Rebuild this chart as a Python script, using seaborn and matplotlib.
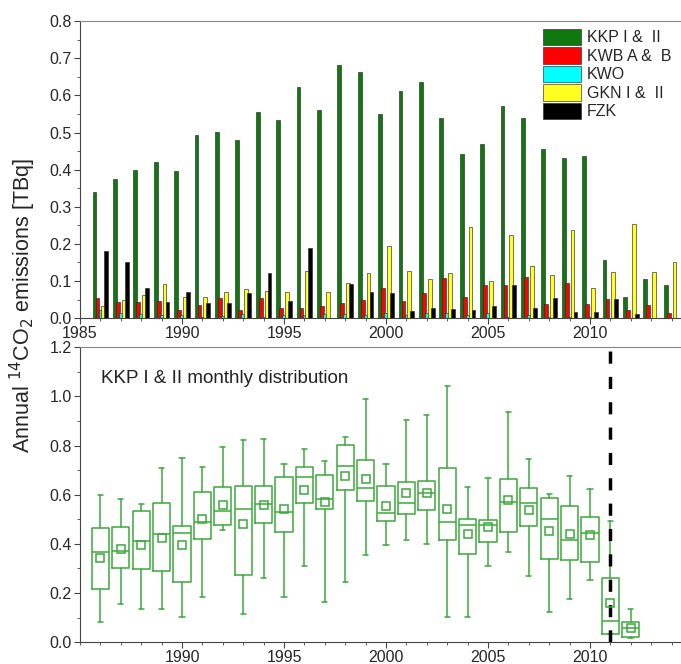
import numpy as np
import pandas as pd
import matplotlib
matplotlib.use("Agg")
import matplotlib.pyplot as plt
import seaborn as sns
from matplotlib.ticker import MultipleLocator, FormatStrFormatter

# annual emissions per plant [TBq]
years = list(range(1986, 2015))
kkp = [0.339, 0.374, 0.398, 0.421, 0.397, 0.493, 0.502, 0.481, 0.555, 0.535,
       0.624, 0.562, 0.683, 0.662, 0.551, 0.611, 0.636, 0.538, 0.441, 0.470,
       0.571, 0.538, 0.456, 0.431, 0.436, 0.157, 0.056, 0.105, 0.088]
kwb = [0.054, 0.044, 0.044, 0.047, 0.021, 0.036, 0.055, 0.023, 0.054, 0.028,
       0.028, 0.032, 0.041, 0.049, 0.081, 0.046, 0.068, 0.109, 0.056, 0.090,
       0.090, 0.112, 0.038, 0.094, 0.038, 0.051, 0.023, 0.036, 0.014]
kwo = [0.022, 0.014, 0.011, 0.009, 0.007, 0.003, 0.006, 0.011, 0.004, 0.009,
       0.007, 0.011, 0.011, 0.009, 0.014, 0.007, 0.014, 0.014, 0.007, 0.014,
       0.003, 0.007, 0.002, 0.002, 0.002, 0.0, 0.0, 0.0, 0.0]
gkn = [0.032, 0.049, 0.063, 0.093, 0.056, 0.056, 0.069, 0.079, 0.074, 0.069,
       0.128, 0.069, 0.095, 0.122, 0.195, 0.127, 0.105, 0.121, 0.245, 0.099,
       0.223, 0.139, 0.116, 0.237, 0.081, 0.124, 0.254, 0.123, 0.150]
fzk = [0.181, 0.150, 0.080, 0.044, 0.069, 0.040, 0.040, 0.067, 0.121, 0.047,
       0.190, 0.0, 0.093, 0.069, 0.067, 0.019, 0.028, 0.025, 0.023, 0.033,
       0.090, 0.028, 0.054, 0.016, 0.016, 0.051, 0.012, 0.0, 0.0]
plants = ["KKP I &  II", "KWB A &  B", "KWO", "GKN I &  II", "FZK"]
colors = ["#0e7a0e", "#ff0000", "#00ffff", "#ffff20", "#000000"]

# KKP monthly distribution stats per year
box_years = list(range(1986, 2013))
whis_lo = [0.083, 0.156, 0.133, 0.133, 0.101, 0.184, 0.456, 0.114, 0.260, 0.184,
           0.308, 0.162, 0.246, 0.353, 0.395, 0.415, 0.399, 0.104, 0.101, 0.311,
           0.365, 0.267, 0.123, 0.175, 0.254, 0.031, 0.015]
q1 = [0.218, 0.302, 0.296, 0.288, 0.244, 0.418, 0.475, 0.272, 0.483, 0.450,
      0.565, 0.540, 0.621, 0.575, 0.492, 0.521, 0.536, 0.415, 0.357, 0.409,
      0.448, 0.471, 0.338, 0.335, 0.325, 0.031, 0.022]
med = [0.365, 0.372, 0.410, 0.438, 0.444, 0.490, 0.534, 0.540, 0.563, 0.530,
       0.672, 0.583, 0.716, 0.626, 0.524, 0.568, 0.605, 0.488, 0.475, 0.478,
       0.572, 0.565, 0.502, 0.415, 0.445, 0.087, 0.057]
q3 = [0.464, 0.467, 0.533, 0.568, 0.472, 0.610, 0.632, 0.634, 0.637, 0.672,
      0.714, 0.682, 0.804, 0.741, 0.637, 0.651, 0.657, 0.709, 0.499, 0.496,
      0.662, 0.628, 0.586, 0.555, 0.510, 0.260, 0.081]
whis_hi = [0.597, 0.582, 0.564, 0.709, 0.749, 0.712, 0.793, 0.823, 0.825, 0.724,
           0.787, 0.739, 0.835, 0.988, 0.724, 0.902, 0.925, 1.044, 0.632, 0.666,
           0.936, 0.745, 0.603, 0.675, 0.624, 0.492, 0.135]
means = [0.341, 0.380, 0.396, 0.423, 0.394, 0.499, 0.560, 0.480, 0.560, 0.540,
         0.620, 0.570, 0.678, 0.662, 0.553, 0.607, 0.606, 0.542, 0.438, 0.469,
         0.578, 0.536, 0.452, 0.438, 0.436, 0.158, 0.058]

sns.set_style("ticks")
plt.rcParams['font.family'] = ['Liberation Sans', 'DejaVu Sans']
plt.rcParams['xtick.direction'] = 'out'
plt.rcParams['ytick.direction'] = 'out'

fig = plt.figure(figsize=(6.81, 6.64), dpi=100)
ax1 = fig.add_axes([0.1175, 0.521, 0.8825, 0.447])
ax2 = fig.add_axes([0.1175, 0.033, 0.8825, 0.444])

# top: grouped bars (slightly overlapping, as in the original)
df = pd.DataFrame({
    'year': np.tile(years, 5),
    'plant': np.repeat(plants, len(years)),
    'value': kkp + kwb + kwo + gkn + fzk,
})
sns.barplot(data=df, x='year', y='value', hue='plant', hue_order=plants,
            palette=colors, saturation=1, native_scale=True, width=0.72,
            gap=-0.3, errorbar=None, edgecolor='#2a2a2a', linewidth=0.45,
            ax=ax1)

ax1.set_xlim(1985, 2014.46)
ax1.set_ylim(0, 0.8)
ax1.set_xticks(range(1985, 2015, 5))
ax1.xaxis.set_minor_locator(MultipleLocator(1))
ax1.xaxis.set_major_formatter(FormatStrFormatter('%d'))
ax1.yaxis.set_major_locator(MultipleLocator(0.1))
ax1.yaxis.set_minor_locator(MultipleLocator(0.05))
ax1.yaxis.set_major_formatter(FormatStrFormatter('%.1f'))
ax1.set_xlabel('')
ax1.set_ylabel('')
handles, labels = ax1.get_legend_handles_labels()
ax1.legend(handles, labels, loc='upper left', bbox_to_anchor=(0.77, 0.975),
           frameon=False, borderaxespad=0, borderpad=0, fontsize=11.5,
           handlelength=2.4, handleheight=1.2, labelspacing=0.12,
           handletextpad=0.35)

# bottom: box plots
green = '#3caa3c'
stats = []
for i, y in enumerate(box_years):
    stats.append(dict(whislo=whis_lo[i], q1=q1[i], med=med[i], q3=q3[i],
                      whishi=whis_hi[i], mean=means[i], label=str(y)))
ax2.bxp(stats, positions=box_years, widths=0.85, capwidths=0.25,
        showmeans=True, showfliers=False, manage_ticks=False,
        boxprops=dict(color=green, linewidth=1.1),
        whiskerprops=dict(color=green, linewidth=1.1),
        capprops=dict(color=green, linewidth=1.1),
        medianprops=dict(color=green, linewidth=1.1),
        meanprops=dict(marker='s', markerfacecolor='none',
                       markeredgecolor=green, markersize=6,
                       markeredgewidth=1.1))
ax2.axvline(2011, color='black', linestyle=(0, (3.5, 3.8)), linewidth=2.5)
ax2.text(0.035, 0.895, 'KKP I & II monthly distribution',
         transform=ax2.transAxes, fontsize=13.5, va='center', color='#222222')

ax2.set_xlim(1985, 2014.46)
ax2.set_ylim(0, 1.2)
ax2.set_xticks(range(1990, 2015, 5))
ax2.xaxis.set_minor_locator(MultipleLocator(1))
ax2.xaxis.set_major_formatter(FormatStrFormatter('%d'))
ax2.yaxis.set_major_locator(MultipleLocator(0.2))
ax2.yaxis.set_minor_locator(MultipleLocator(0.1))
ax2.yaxis.set_major_formatter(FormatStrFormatter('%.1f'))

for ax in (ax1, ax2):
    ax.spines['right'].set_visible(False)
    ax.spines['top'].set_color('#888888')
    for s in ('left', 'bottom'):
        ax.spines[s].set_color('#444444')
    ax.tick_params(axis='both', which='major', labelsize=11.5, length=4,
                   color='#444444', pad=2)
    ax.tick_params(axis='both', which='minor', length=2.5, color='#444444')

fig.text(0.034, 0.54, 'Annual $^{14}$CO$_2$ emissions [TBq]', rotation=90,
         va='center', ha='center', fontsize=15.5)

plt.savefig('out.png', dpi=100)
plt.close()
